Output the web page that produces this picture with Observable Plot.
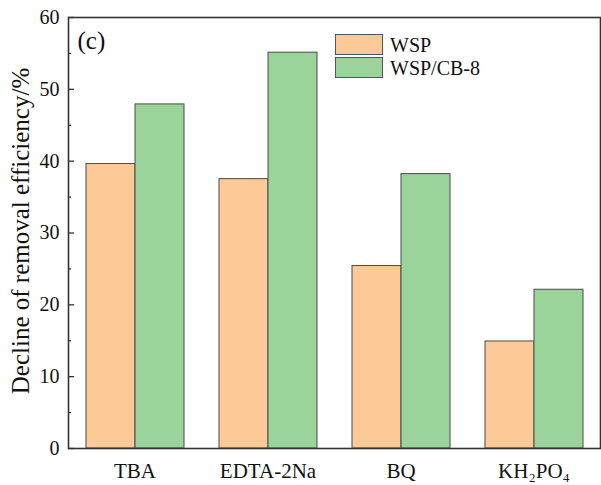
<!DOCTYPE html>
<html><head><meta charset="utf-8">
<script src="https://cdn.jsdelivr.net/npm/d3@7"></script>
<script src="https://cdn.jsdelivr.net/npm/@observablehq/plot@0.6"></script>
<style>
body{margin:0;background:#fff}
#wrap{position:relative;width:601px;height:485px;font-family:'Liberation Serif','Times New Roman',serif;color:#111}
#wrap svg text{font-family:'Liberation Serif','Times New Roman',serif}
.leg{position:absolute;left:335px;display:flex;align-items:center;font-size:20px;line-height:20px}
.sw{width:46px;height:19px;border:1px solid #555;margin-right:7px;box-sizing:content-box}
</style></head><body><div id="wrap"></div>
<script>
const categories = ["TBA", "EDTA-2Na", "BQ", "KH₂PO₄"];
const seriesNames = ["WSP", "WSP/CB-8"];
const wspValues = [39.6, 37.5, 25.4, 14.9];
const cb8Values = [47.9, 55.1, 38.2, 22.1];
const yTicks = [0, 10, 20, 30, 40, 50, 60];
const yMinorTicks = [5, 15, 25, 35, 45, 55];
const colors = ["#FDC996", "#9BD49B"];
const panelLabel = "(c)";
const yLabel = "Decline of removal efficiency/%";

const data = categories.flatMap((c, i) => [
  {category: c, series: seriesNames[0], value: wspValues[i]},
  {category: c, series: seriesNames[1], value: cb8Values[i]}
]);

const chart = Plot.plot({
  width: 601, height: 485,
  marginLeft: 67, marginRight: 1, marginTop: 17, marginBottom: 37,
  style: {fontFamily: "'Liberation Serif', 'Times New Roman', serif", fontSize: "20px", color: "#111", background: "white"},
  fx: {domain: categories, padding: 0},
  x: {domain: seriesNames, paddingInner: 0, paddingOuter: 1/3, axis: null},
  y: {domain: [0, 60]},
  color: {domain: seriesNames, range: colors},
  marks: [
    Plot.barY(data, {fx: "category", x: "series", y: "value", fill: "series", stroke: "#4a4a4a", strokeWidth: 1}),
    Plot.axisFx({anchor: "bottom", tickSize: 0, tickPadding: 15, fontSize: 21, label: null}),
    Plot.axisY(yTicks, {anchor: "left", tickSize: 0, tickPadding: 9, fontSize: 20, label: null}),
    Plot.axisY(yTicks, {anchor: "left", tickSize: -6, tickFormat: () => "", label: null, stroke: "#333", strokeWidth: 1.3}),
    Plot.axisY(yMinorTicks, {anchor: "left", tickSize: -3, tickFormat: () => "", label: null, stroke: "#333", strokeWidth: 1.3}),
    Plot.frame({facet: "super", stroke: "#333", strokeWidth: 1.6}),
    Plot.text([panelLabel], {facet: "super", frameAnchor: "top-left", dx: 9, dy: 14, fontSize: 25, textAnchor: "start", lineAnchor: "top"}),
    Plot.text([yLabel], {facet: "super", frameAnchor: "left", textAnchor: "middle", rotate: -90, dx: -48, dy: -2, fontSize: 25})
  ]
});

const wrap = document.getElementById("wrap");
wrap.appendChild(chart);
seriesNames.forEach((s, i) => {
  const d = document.createElement("div");
  d.className = "leg";
  d.style.top = (34 + i * 23) + "px";
  const sw = document.createElement("div");
  sw.className = "sw";
  sw.style.background = colors[i];
  d.appendChild(sw);
  const t = document.createElement("span");
  t.textContent = s;
  d.appendChild(t);
  wrap.appendChild(d);
});
</script>
</body></html>
